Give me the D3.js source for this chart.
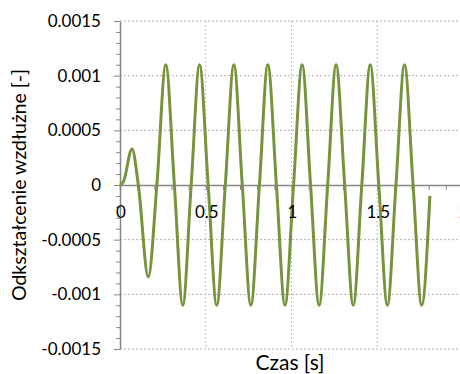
<!DOCTYPE html>
<meta charset="utf-8">
<script src="https://d3js.org/d3.v7.min.js"></script>
<style>
body { margin: 0; background: #fff; }
text { font-family: Lato, "Open Sans", sans-serif; fill: #000; }
</style>
<div id="chart"></div>
<script>
// values
var times = [0, 0.02, 0.07, 0.107, 0.165, 0.215, 0.267, 0.317, 0.366, 0.415, 0.464, 0.514,
  0.564, 0.614, 0.664, 0.713, 0.763, 0.813, 0.862, 0.912, 0.962, 1.012, 1.062, 1.111,
  1.161, 1.211, 1.26, 1.31, 1.36, 1.41, 1.459, 1.509, 1.559, 1.609, 1.659, 1.709, 1.759, 1.807];
var strain = [0, 0.00003, 0.00033, 0, -0.00084, 0, 0.0011, 0, -0.0011, 0, 0.0011, 0,
  -0.0011, 0, 0.0011, 0, -0.0011, 0, 0.0011, 0, -0.0011, 0, 0.0011, 0,
  -0.0011, 0, 0.0011, 0, -0.0011, 0, 0.0011, 0, -0.0011, 0, 0.0011, 0, -0.0011, -0.0001];
var xTicks = [0, 0.5, 1, 1.5, 2];
var xTickLabels = ["0", "0.5", "1", "1.5", "2"];
var yTicks = [0.0015, 0.001, 0.0005, 0, -0.0005, -0.001, -0.0015];
var yTickLabels = ["0.0015", "0.001", "0.0005", "0", "-0.0005", "-0.001", "-0.0015"];

var width = 460, height = 374;
var x = d3.scaleLinear().domain([0, 2]).range([120, 463]);
var y = d3.scaleLinear().domain([-0.0015, 0.0015]).range([349, 21]);

var svg = d3.select("#chart").append("svg")
  .attr("width", width).attr("height", height);

// grid
svg.append("g").selectAll("line").data(yTicks.filter(function(d) { return d !== 0; }))
  .enter().append("line")
    .attr("x1", x(0)).attr("x2", x(2))
    .attr("y1", function(d) { return y(d); }).attr("y2", function(d) { return y(d); })
    .attr("stroke", "#b0b0b0").attr("stroke-width", 1).attr("stroke-dasharray", "2,2");
svg.append("g").selectAll("line").data(xTicks.filter(function(d) { return d !== 0; }))
  .enter().append("line")
    .attr("x1", function(d) { return x(d); }).attr("x2", function(d) { return x(d); })
    .attr("y1", y(0.0015)).attr("y2", y(-0.0015))
    .attr("stroke", "#c0c0c0").attr("stroke-width", 1).attr("stroke-dasharray", "2,2");

// x axis along zero, minor ticks every 0.1
var xAxis = d3.axisBottom(x).tickValues(d3.range(0, 21).map(function(i) { return i / 10; }))
  .tickSize(5).tickFormat("");
var gx = svg.append("g").attr("transform", "translate(0," + y(0) + ")").call(xAxis);
gx.select(".domain").attr("stroke", "#868686").attr("stroke-width", 1.5);
gx.selectAll(".tick line").attr("stroke", "#868686");

// y axis, minor ticks every 0.0001
var yMinor = d3.range(-15, 16).map(function(i) { return i / 10000; });
var yAxis = d3.axisLeft(y).tickValues(yMinor).tickSize(4).tickSizeOuter(0).tickFormat("");
var gy = svg.append("g").attr("transform", "translate(" + x(0) + ",0)").call(yAxis);
gy.select(".domain").attr("stroke", "#868686").attr("stroke-width", 1.5);
gy.selectAll(".tick line").attr("stroke", "#868686");
gy.selectAll(".tick").filter(function(d) { return Math.round(d * 10000) % 5 === 0; })
  .select("line").attr("x2", -6);

// curve
var line = d3.line()
  .x(function(d, i) { return x(times[i]); })
  .y(function(d) { return y(d); })
  .curve(d3.curveMonotoneX);
svg.append("path").datum(strain)
  .attr("d", line)
  .attr("fill", "none")
  .attr("stroke", "#77933c")
  .attr("stroke-width", 3)
  .attr("stroke-linejoin", "round");

// tick labels
svg.append("g").selectAll("text").data(yTicks).enter().append("text")
  .attr("x", 101).attr("y", function(d) { return y(d); })
  .attr("dy", "0.35em").attr("text-anchor", "end")
  .style("font-size", "17px")
  .text(function(d, i) { return yTickLabels[i]; });
svg.append("g").selectAll("text").data(xTicks).enter().append("text")
  .attr("x", function(d) { return x(d) + 1; }).attr("y", 218)
  .attr("text-anchor", "middle")
  .style("font-size", "17px")
  .text(function(d, i) { return xTickLabels[i]; });

// axis titles
svg.append("text")
  .attr("transform", "translate(26," + 185 + ") rotate(-90)")
  .attr("text-anchor", "middle")
  .style("font-size", "19.5px")
  .text("Odkształcenie wzdłużne [-]");
svg.append("text")
  .attr("x", 290).attr("y", 370)
  .attr("text-anchor", "middle")
  .style("font-size", "21px")
  .text("Czas [s]");
</script>
